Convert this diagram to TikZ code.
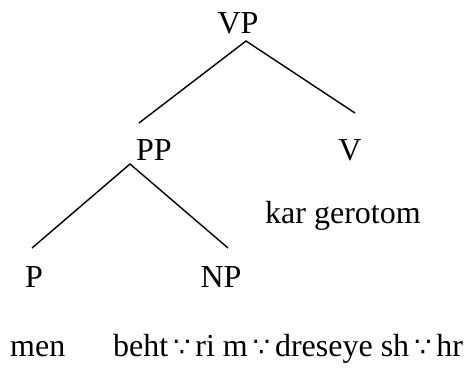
\documentclass[tikz,border=0pt]{standalone}
\usepackage{fontspec}
\setmainfont{Liberation Serif}
\newfontfamily\symfont{DejaVu Sans}
\newcommand{\bec}{\hspace{5pt}{\symfont\fontsize{27}{29}\selectfont ∵}\hspace{5pt}}
\begin{document}
\begin{tikzpicture}[x=1pt,y=-1pt,
  lbl/.style={inner sep=0pt,font=\fontsize{32}{35}\selectfont},
  branch/.style={line width=1.4pt}]
\useasboundingbox (0,0) rectangle (466,376);
\node[lbl,anchor=base] (vp) at (238,33) {VP};
\node[lbl,anchor=base] (pp) at (154,160) {PP};
\node[lbl,anchor=base] (v) at (350,160) {V};
\node[lbl,anchor=base west] (kar) at (265,223) {kar gerotom};
\node[lbl,anchor=base] (p) at (34,287) {P};
\node[lbl,anchor=base] (np) at (221,287) {NP};
\node[lbl,anchor=base west] (men) at (10,356) {men};
\node[lbl,anchor=base west] (beh) at (113,356) {beht\bec ri m\bec dreseye sh\bec hr};
\coordinate (vptop) at (246,41);
\coordinate (vpl) at (139,123);
\coordinate (vpr) at (355,113);
\coordinate (pptop) at (130,164);
\coordinate (ppl) at (32,248);
\coordinate (ppr) at (228,248);
\draw[branch] (vpl) -- (vptop) -- (vpr);
\draw[branch] (ppl) -- (pptop) -- (ppr);
\end{tikzpicture}
\end{document}
